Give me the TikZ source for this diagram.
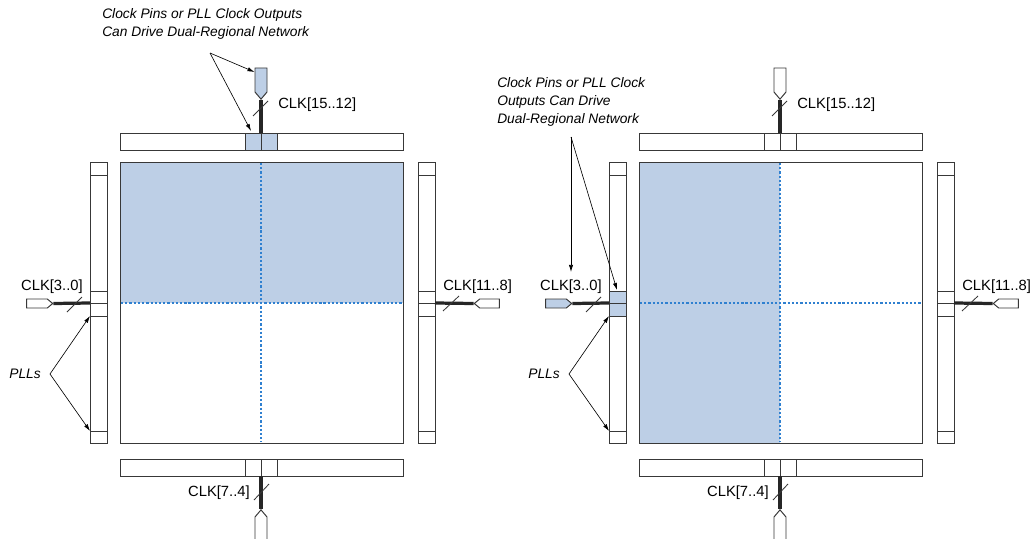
\documentclass[tikz,border=0pt]{standalone}
\usepackage{fontspec}
\setmainfont{Liberation Sans}
\usetikzlibrary{positioning,calc,arrows.meta,shapes.symbols}
\definecolor{region}{HTML}{BDCFE6}
\definecolor{quadline}{HTML}{2F80D0}
\definecolor{frame}{HTML}{383838}
\tikzset{
  bank/.style  ={draw=frame, line width=0.7pt},
  % quadrant split of the core: fine blue dots
  quad/.style  ={draw=quadline, line width=0.8pt, dash pattern=on 1.6pt off 1.4pt},
  wire/.style  ={black!85, line width=2.3pt},
  bus/.style   ={draw=frame, line width=0.6pt},
  clkpin/.style={signal, draw=frame, line width=0.7pt, inner sep=0pt,
                 signal pointer angle=80},
  clk/.style   ={font=\fontsize{10.5}{12}\selectfont, inner sep=0pt},
  note/.style  ={font=\fontsize{9.8}{12.8}\selectfont\itshape, inner sep=0pt,
                 align=left},
  ptr/.style   ={-{Latex[length=5pt,width=3pt]}, black, line width=0.45pt},
}
\begin{document}
\begin{tikzpicture}[x=0.025cm,y=-0.025cm]
  \useasboundingbox (0,0) rectangle (1035,539);
  % dual-regional shading
  \fill[region] (120,162) rectangle (403,303);
  \fill[region] (245,133) rectangle (277,150);
  \fill[region] (639,162) rectangle (780,443);
  \fill[region] (609,291) rectangle (626,316);
  \foreach \o/\s/\ft/\fl in {0/l/region/white,519/r/white/region}{
    \draw[bank] (\o+120,133) rectangle (\o+403,150);
    \draw[bank] (\o+120,459) rectangle (\o+403,476);
    \draw[bank] (\o+90,162) rectangle (\o+107,443);
    \draw[bank] (\o+418,162) rectangle (\o+435,443);
    \draw[bank] (\o+120,162) rectangle (\o+403,443);
    \foreach \x in {245,261,277}{
      \draw[bank] (\o+\x,133) -- (\o+\x,150);
      \draw[bank] (\o+\x,459) -- (\o+\x,476);
    }
    \foreach \y in {175,291,303,316,431}{
      \draw[bank] (\o+90,\y) -- (\o+107,\y);
      \draw[bank] (\o+418,\y) -- (\o+435,\y);
    }
    \draw[quad] (\o+261,163) -- (\o+261,442);
    \draw[quad] (\o+121,303) -- (\o+402,303);
    % clock input pins
    \node[clkpin, signal to=south, fill=\ft, minimum width=0.3cm, minimum height=0.6cm]
      (\s-pinT) at (\o+261,80) {};
    \node[clkpin, signal to=north, fill=white, minimum width=0.3cm, minimum height=0.7cm]
      (\s-pinB) at (\o+261,531) {};
    \node[clkpin, signal to=east, fill=\fl, minimum width=0.65cm, minimum height=0.225cm]
      (\s-pinL) at (\o+37,303.5) {};
    \node[clkpin, signal to=west, fill=white, minimum width=0.625cm, minimum height=0.225cm]
      (\s-pinR) at (\o+489.5,303.5) {};
    \coordinate (\s-portT) at (\o+261,133);
    \coordinate (\s-portB) at (\o+261,476);
    \coordinate (\s-portL) at (\o+90,303);
    \coordinate (\s-portR) at (\o+435,303);
    \draw[wire] (\s-pinT.south) -- (\s-portT);
    \draw[wire] (\s-portB) -- (\s-pinB.north);
    \draw[wire] (\s-pinL.east) -- (\s-portL);
    \draw[wire] (\s-portR) -- (\s-pinR.west);
    % bus width ticks
    \draw[bus] (\o+253,116) -- ++(15,-15);
    \draw[bus] (\o+254,500) -- ++(15,-16);
    \draw[bus] (\o+67,312) -- ++(15,-15);
    \draw[bus] (\o+443,311) -- ++(16,-15);
    \node[clk, anchor=west] (\s-clkT) at (\o+278,105) {CLK[15..12]};
    \node[clk, anchor=east] (\s-clkB) at (\o+250,493) {CLK[7..4]};
    \node[clk, anchor=east] (\s-clkL) at (\o+83,287) {CLK[3..0]};
    \node[clk, anchor=west] (\s-clkR) at (\o+443,287) {CLK[11..8]};
    % PLL callout
    \node[note, anchor=east] (\s-plls) at (\o+41,374) {PLLs};
    \coordinate (\s-fork) at (\o+50,374);
    \coordinate (\s-pllA) at (\o+90,316);
    \coordinate (\s-pllB) at (\o+90,431);
    \draw[ptr] (\s-fork) -- (\s-pllA);
    \draw[ptr] (\s-fork) -- (\s-pllB);
  }
  % callouts for the shaded clock sources
  \node[note, anchor=north west] (lnote) at (102,8)
    {Clock Pins or PLL Clock Outputs\\Can Drive Dual-Regional Network};
  \coordinate (lsplit) at (210,53);
  \coordinate (lcell) at (251,131);
  \draw[ptr] (lsplit) -- (l-pinT.west |- 0,72);
  \draw[ptr] (lsplit) -- (lcell);
  \node[note, anchor=north west] (rnote) at (497,77)
    {Clock Pins or PLL Clock\\Outputs Can Drive\\Dual-Regional Network};
  \coordinate (rsplit) at (571,137);
  \coordinate (rdown) at (571,272);
  \coordinate (rcell) at (617,290);
  \draw[ptr] (rsplit) -- (rdown);
  \draw[ptr] (rsplit) -- (rcell);
\end{tikzpicture}
\end{document}
